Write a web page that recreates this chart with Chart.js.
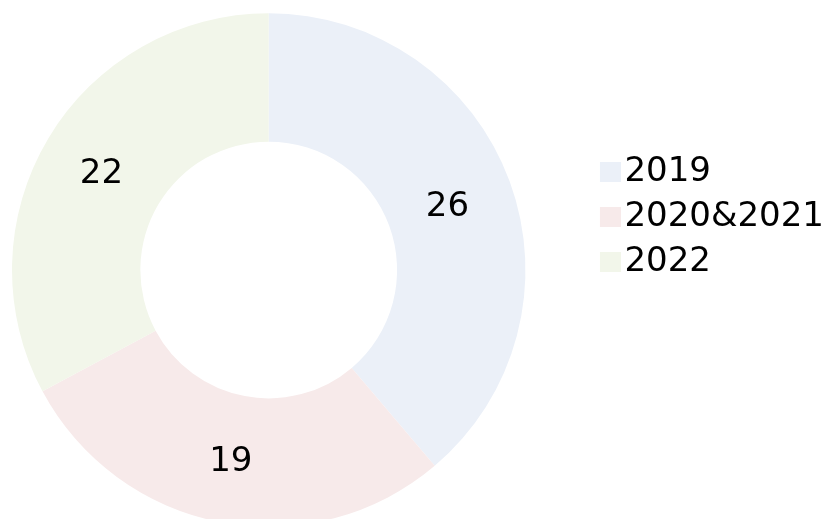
<!DOCTYPE html>
<html>
<head>
<meta charset="utf-8">
<script src="https://cdn.jsdelivr.net/npm/chart.js@4/dist/chart.umd.min.js"></script>
<style>
  html, body { margin: 0; padding: 0; background: #ffffff; overflow: hidden; }
  #wrap { position: relative; width: 830px; height: 540px; }
</style>
</head>
<body>
<div id="wrap"><canvas id="c"></canvas></div>
<script>
const labels = ['2019', '2020&2021', '2022'];
const values = [26, 19, 22];
const colors = ['#ebf0f8', '#f7eaea', '#f2f6ea'];

const FONT = "'DejaVu Sans', sans-serif";
const SWATCH_OFFSET = 71;   // legend pointStyleWidth
const SWATCH_W = 21, SWATCH_H = 20;

function makeSwatch(color) {
  const cv = document.createElement('canvas');
  cv.width = SWATCH_OFFSET + 27;
  cv.height = SWATCH_H;
  const g = cv.getContext('2d');
  g.fillStyle = color;
  g.fillRect(cv.width - SWATCH_W, 0, SWATCH_W, SWATCH_H);
  return cv;
}

const valueLabels = {
  id: 'valueLabels',
  afterDatasetsDraw(chart) {
    const ctx = chart.ctx;
    const meta = chart.getDatasetMeta(0);
    ctx.save();
    ctx.font = '34px ' + FONT;
    ctx.fillStyle = '#000000';
    ctx.textAlign = 'center';
    ctx.textBaseline = 'middle';
    meta.data.forEach((arc, i) => {
      const p = arc.getCenterPoint();
      ctx.fillText(String(chart.data.datasets[0].data[i]), p.x - 2, p.y + 3);
    });
    ctx.restore();
  }
};

new Chart(document.getElementById('c'), {
  type: 'doughnut',
  data: {
    labels: labels,
    datasets: [{
      data: values,
      backgroundColor: colors,
      borderWidth: 0
    }]
  },
  options: {
    responsive: true,
    maintainAspectRatio: false,
    animation: false,
    cutout: '50%',
    layout: { padding: { left: 12, right: -4, top: 13, bottom: 13 } },
    plugins: {
      tooltip: { enabled: false },
      legend: {
        display: true,
        position: 'right',
        align: 'start',
        title: { display: true, text: ' ', font: { size: 10, lineHeight: 1.2 }, padding: { top: 0, bottom: 119 } },
        labels: {
          usePointStyle: true,
          pointStyleWidth: SWATCH_OFFSET,
          padding: 11,
          color: '#000000',
          font: { family: FONT, size: 34 },
          generateLabels: (chart) => {
            const items = Chart.overrides.doughnut.plugins.legend.labels.generateLabels(chart);
            items.forEach((it, i) => { it.pointStyle = makeSwatch(colors[i]); });
            return items;
          }
        }
      }
    }
  },
  plugins: [valueLabels]
});
</script>
</body>
</html>
